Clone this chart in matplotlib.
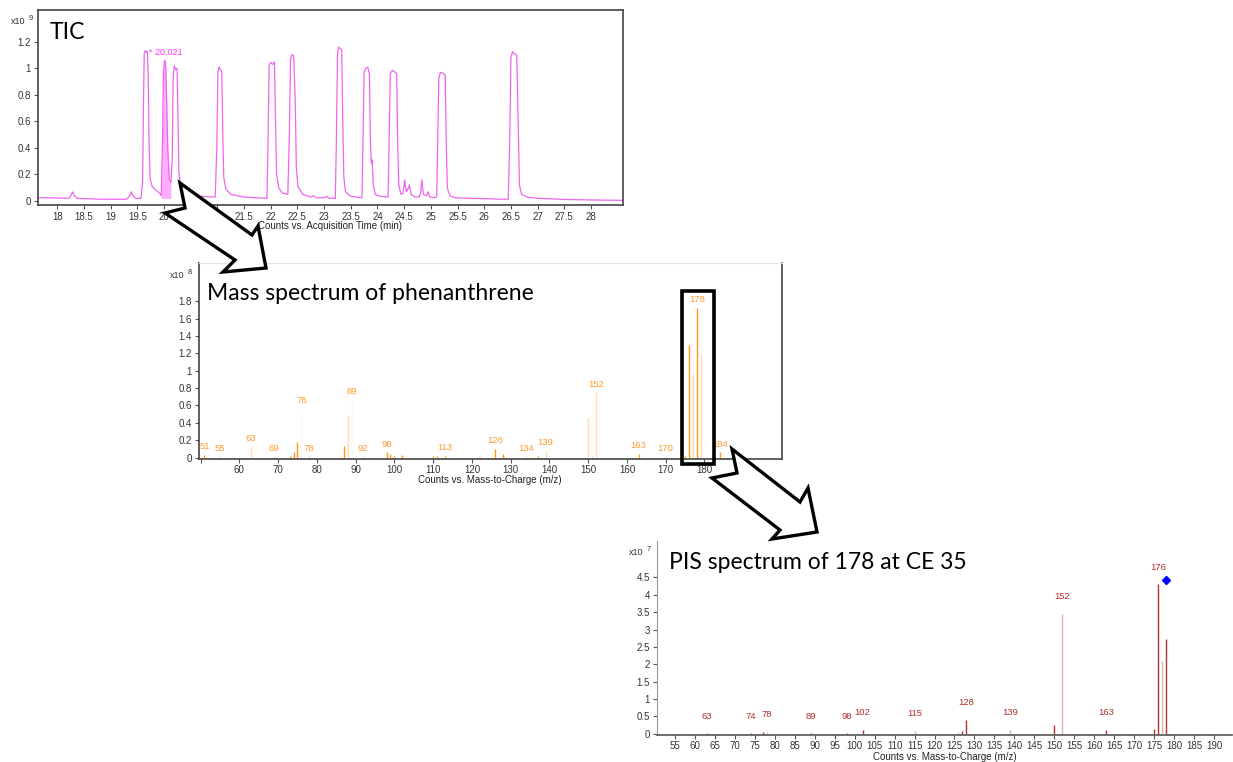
import numpy as np
import matplotlib
matplotlib.use("Agg")
import matplotlib.pyplot as plt
from matplotlib.patches import Polygon, Rectangle

# TIC trace (time in min, counts x10^9)
tic_trace = [
    (17.64, 0.025), (18.0, 0.023), (18.22, 0.02), (18.26, 0.045), (18.29, 0.068),
    (18.32, 0.04), (18.38, 0.02), (18.8, 0.014), (19.3, 0.013), (19.36, 0.04),
    (19.39, 0.07), (19.42, 0.04), (19.47, 0.02), (19.57, 0.02), (19.60, 0.15),
    (19.615, 0.7), (19.63, 1.11), (19.65, 1.135), (19.67, 1.12), (19.69, 1.125),
    (19.705, 0.95), (19.72, 0.45), (19.74, 0.17), (19.78, 0.11), (19.85, 0.08),
    (19.92, 0.06), (19.95, 0.04), (19.975, 0.5), (19.99, 0.98), (20.01, 1.06),
    (20.03, 1.045), (20.045, 0.85), (20.07, 0.4), (20.10, 0.16), (20.13, 0.14),
    (20.155, 0.3), (20.17, 0.9), (20.19, 1.02), (20.22, 0.99), (20.245, 1.0),
    (20.26, 0.7), (20.28, 0.22), (20.31, 0.11), (20.37, 0.07), (20.5, 0.045),
    (20.7, 0.035), (20.96, 0.03), (20.99, 0.4), (21.01, 0.97), (21.03, 1.01),
    (21.06, 0.99), (21.085, 0.97), (21.1, 0.55), (21.12, 0.18), (21.16, 0.09),
    (21.25, 0.05), (21.5, 0.03), (21.93, 0.02), (21.95, 0.45), (21.97, 1.02),
    (22.0, 1.045), (22.04, 1.03), (22.07, 1.05), (22.09, 0.6), (22.11, 0.2),
    (22.15, 0.1), (22.22, 0.06), (22.32, 0.05), (22.35, 0.5), (22.37, 1.06),
    (22.40, 1.105), (22.43, 1.095), (22.46, 0.75), (22.48, 0.25), (22.51, 0.11),
    (22.6, 0.05), (22.75, 0.03), (22.8, 0.04), (22.85, 0.025), (23.0, 0.025),
    (23.05, 0.035), (23.1, 0.02), (23.21, 0.02), (23.23, 0.45), (23.25, 1.1),
    (23.27, 1.16), (23.30, 1.15), (23.33, 1.14), (23.35, 0.6), (23.37, 0.18),
    (23.40, 0.07), (23.5, 0.035), (23.71, 0.025), (23.73, 0.5), (23.75, 0.97),
    (23.78, 1.0), (23.82, 1.01), (23.85, 0.95), (23.865, 0.5), (23.885, 0.28),
    (23.90, 0.31), (23.92, 0.12), (23.96, 0.05), (24.05, 0.035), (24.20, 0.03),
    (24.22, 0.5), (24.24, 0.96), (24.28, 0.985), (24.32, 0.975), (24.36, 0.96),
    (24.38, 0.4), (24.40, 0.12), (24.44, 0.05), (24.48, 0.06), (24.51, 0.16),
    (24.54, 0.07), (24.57, 0.09), (24.60, 0.12), (24.63, 0.05), (24.7, 0.03),
    (24.78, 0.03), (24.81, 0.06), (24.83, 0.16), (24.86, 0.05), (24.92, 0.04),
    (24.95, 0.07), (24.98, 0.03), (25.05, 0.025), (25.11, 0.03), (25.13, 0.5),
    (25.15, 0.93), (25.18, 0.97), (25.22, 0.965), (25.27, 0.95), (25.29, 0.4),
    (25.31, 0.1), (25.33, 0.07), (25.36, 0.04), (25.45, 0.025), (25.7, 0.02),
    (26.0, 0.018), (26.3, 0.014), (26.45, 0.014), (26.48, 0.5), (26.50, 1.08),
    (26.53, 1.125), (26.57, 1.11), (26.61, 1.10), (26.64, 0.5), (26.66, 0.12),
    (26.70, 0.05), (26.8, 0.03), (27.0, 0.02), (27.5, 0.012), (28.0, 0.008),
    (28.6, 0.005),
]
tic_peak_rt = 20.021
tic_fill_range = (19.95, 20.13)

# EI mass spectrum of phenanthrene (counts x10^8)
ms_mz = [51, 55, 63, 69, 73, 74, 75, 76, 78, 86, 87, 88, 89, 92, 98, 99, 100, 102,
         110, 111, 113, 122, 126, 128, 134, 137, 139, 150, 151, 152, 163, 170,
         174, 175, 176, 177, 178, 179, 184]
ms_counts = [0.03, 0.005, 0.12, 0.005, 0.02, 0.07, 0.18, 0.56, 0.005, 0.01, 0.135, 0.49,
             0.66, 0.005, 0.06, 0.045, 0.02, 0.025, 0.02, 0.02, 0.02, 0.01, 0.10, 0.045,
             0.005, 0.02, 0.08, 0.46, 0.01, 0.75, 0.04, 0.01, 0.2, 0.02, 1.30, 0.96,
             1.72, 1.19, 0.06]
ms_labels = [51, 55, 63, 69, 76, 78, 89, 92, 98, 113, 126, 134, 139, 152, 163, 170, 178, 184]
ms_faint = [63, 88, 139, 150, 152, 177, 179]
ms_hidden = [76, 89]

# product ion scan of 178 at CE 35 (counts x10^7)
pis_mz = [63, 74, 77, 78, 89, 98, 102, 115, 126, 127, 128, 139, 150, 152, 163,
          175, 176, 177, 178]
pis_counts = [0.01, 0.01, 0.06, 0.05, 0.01, 0.01, 0.12, 0.09, 0.05, 0.09, 0.39, 0.1,
              0.24, 3.45, 0.1, 0.13, 4.30, 2.11, 2.74]
pis_labels = [63, 74, 78, 89, 98, 102, 115, 128, 139, 152, 163, 176]
pis_faint = [78, 115, 126, 139, 152, 177]
precursor_mz = 178
precursor_y = 4.44

W, H = 1233, 762
fig = plt.figure(figsize=(W / 100, H / 100), dpi=100)
plt.rcParams['font.family'] = ['Liberation Sans', 'DejaVu Sans']


def px_axes(left, top, right, bottom):
    return fig.add_axes([left / W, 1 - bottom / H, (right - left) / W, (bottom - top) / H])


def style(ax):
    ax.tick_params(labelsize=7, length=3, width=0.8, color='#555555',
                   labelcolor='#333333', pad=2)
    ax.xaxis.set_major_formatter(plt.FuncFormatter(lambda v, p: '{:g}'.format(v)))
    ax.yaxis.set_major_formatter(plt.FuncFormatter(lambda v, p: '{:g}'.format(round(v, 2))))


# --- TIC ---
ax1 = px_axes(38, 10, 623, 205)
t = np.array([p[0] for p in tic_trace])
c = np.array([p[1] for p in tic_trace])
ax1.plot(t, c, color='#ee66ee', lw=0.9)
m = (t >= tic_fill_range[0]) & (t <= tic_fill_range[1])
ax1.fill_between(t[m], 0.02, c[m], color='#ff99ff', alpha=0.8, lw=0)
ax1.text(19.72, 1.12, '* {:.3f}'.format(tic_peak_rt), color='#ff33ff', fontsize=6.5,
         va='center')
ax1.set_xlim(17.64, 28.6)
ax1.set_ylim(-0.03, 1.44)
ax1.set_xticks(np.arange(18, 28.01, 0.5))
ax1.set_yticks(np.arange(0, 1.21, 0.2))
style(ax1)
for s in ax1.spines.values():
    s.set_color('#444444')
    s.set_linewidth(1.2)

# --- mass spectrum ---
ax2 = px_axes(199, 263, 782, 458.5)
for mz, h in zip(ms_mz, ms_counts):
    a = 0.9
    if mz in ms_faint:
        a = 0.3
    if mz in ms_hidden:
        a = 0.06
    ax2.vlines(mz, 0, h, color='#ff9000', lw=1.0, alpha=a)
for mz in ms_labels:
    h = ms_counts[ms_mz.index(mz)]
    ax2.annotate(str(mz), (mz, h), xytext=(0, 6), textcoords='offset points',
                 ha='center', va='center', fontsize=6.8, color='#ff9a30')
ax2.add_patch(Rectangle((174.3, -0.077), 8.2, 2.0, fill=False, lw=2.6,
                        ec='black', clip_on=False, zorder=5))
ax2.set_xlim(49.6, 200)
ax2.set_ylim(-0.01, 2.24)
ax2.set_xticks(np.arange(50, 191, 10))
ax2.set_yticks(np.arange(0, 1.81, 0.2))
style(ax2)
ax2.set_xticklabels([''] + [str(v) for v in range(60, 191, 10)])
for k in ['left', 'bottom', 'right']:
    ax2.spines[k].set_color('#444444')
    ax2.spines[k].set_linewidth(1.2)
ax2.spines['top'].set_color('#e4e4e4')

# --- product ion spectrum ---
ax3 = px_axes(657, 541, 1232, 734.5)
for mz, h in zip(pis_mz, pis_counts):
    ax3.vlines(mz, 0, h, color='#a52a2a', lw=1.0,
               alpha=0.35 if mz in pis_faint else 0.95)
for mz in pis_labels:
    h = pis_counts[pis_mz.index(mz)] if mz in pis_mz else 0
    ax3.annotate(str(mz), (mz, h), xytext=(0, 12.5), textcoords='offset points',
                 ha='center', va='center', fontsize=6.8, color='#b03030')
ax3.plot(precursor_mz, precursor_y, 'D', color='#0000ff', ms=4)
ax3.set_xlim(50.5, 194.5)
ax3.set_ylim(-0.02, 5.55)
ax3.set_xticks(np.arange(55, 191, 5))
ax3.set_yticks(np.arange(0, 4.51, 0.5))
style(ax3)
ax3.spines['top'].set_visible(False)
ax3.spines['right'].set_visible(False)
ax3.spines['left'].set_color('#999999')
ax3.spines['bottom'].set_color('#555555')
ax3.spines['bottom'].set_linewidth(1.2)

# --- overlay in pixel coordinates: titles, exponents, axis titles, arrows ---
ov = fig.add_axes([0, 0, 1, 1], zorder=10)
ov.set_xlim(0, W)
ov.set_ylim(H, 0)
ov.axis('off')

title_font = dict(family=['Lato', 'DejaVu Sans'], fontsize=16.5, va='baseline', color='black')
ov.text(50, 39, 'TIC', **title_font)
ov.text(207, 300, 'Mass spectrum of phenanthrene', **title_font)
ov.text(669, 569, 'PIS spectrum of 178 at CE 35', **title_font)

for x, y, e in [(11, 24, '9'), (170, 278, '8'), (629, 555, '7')]:
    ov.text(x, y, 'x10', fontsize=6.5, color='#333333', va='baseline')
    ov.text(x + 18, y - 4, e, fontsize=5.5, color='#333333', va='baseline')

ov.text(330, 226, 'Counts vs. Acquisition Time (min)', fontsize=7, ha='center',
        va='center', color='#222222')
ov.text(490, 480, 'Counts vs. Mass-to-Charge (m/z)', fontsize=7, ha='center',
        va='center', color='#222222')
ov.text(945, 757, 'Counts vs. Mass-to-Charge (m/z)', fontsize=7, ha='center',
        va='center', color='#222222')

arrow1 = [(180, 183), (252, 235), (258, 226), (266, 268), (223, 272), (235, 260),
          (165, 213), (185, 208)]
arrow2 = [(732, 449), (800, 502), (808, 488), (817, 532), (772, 539), (780, 530),
          (712, 478), (737, 473)]
for pts in (arrow1, arrow2):
    ov.add_patch(Polygon(pts, closed=True, fc='white', ec='black', lw=2.4,
                         joinstyle='miter'))

fig.savefig('out.png', dpi=100)
